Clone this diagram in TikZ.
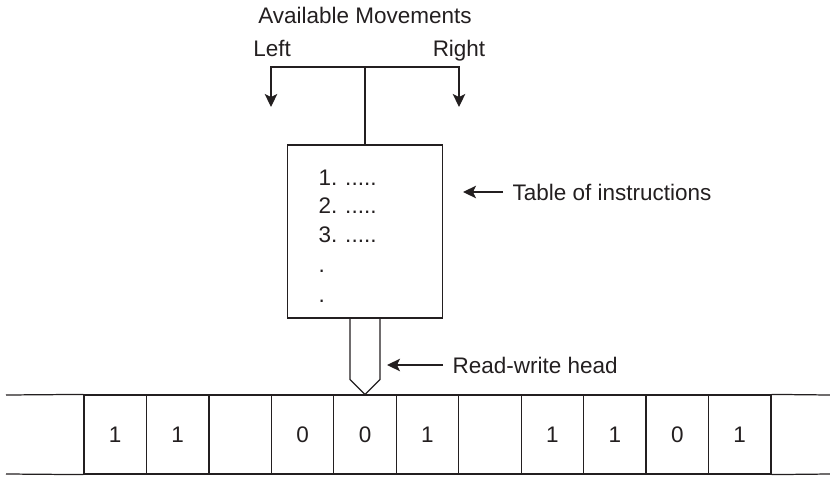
\documentclass[tikz,border=0pt]{standalone}
\usepackage{fontspec}
\setmainfont{Liberation Sans}
\usepackage{tikz}
\usetikzlibrary{arrows.meta, positioning, calc}
\definecolor{ink}{HTML}{231F20}
\tikzstyle{box} = [rectangle, draw, minimum width=3.1cm, minimum height=3.46cm, inner sep=0pt]
\tikzstyle{cell} = [rectangle, draw, minimum width=1.249cm, minimum height=1.58cm, inner sep=0pt]
\tikzstyle{line} = [draw, -{Stealth[length=2.6mm, width=2.5mm, inset=0.6mm]}]
\tikzstyle{note} = [inner sep=0pt, font=\fontsize{12.8}{15}\selectfont]

\begin{document}
\begin{tikzpicture}[x=0.02cm, y=-0.02cm, line width=0.7pt, color=ink]
        \useasboundingbox (0,0) rectangle (830,476);

        % Nodes
        \node [box] (table) at (365,231.5) {};
        \foreach \d [count=\i] in {1,1,{},0,0,1,{},1,1,0,1}
            \node [cell, note] (c\i) at ({115.2+62.45*(\i-1)},434.5) {\d};

        % Tape ends
        \coordinate (tapeNW) at (6,395);
        \coordinate (tapeSW) at (6,474);
        \coordinate (tapeNE) at (830,395);
        \coordinate (tapeSE) at (830,474);
        \draw (tapeNW) -- (c1.north west);
        \draw (tapeSW) -- (c1.south west);
        \draw (c11.north east) -- (tapeNE);
        \draw (c11.south east) -- (tapeSE);

        % Head
        \draw ($(table.south)+(-15,0)$) -- ++(0,61) -- (c5.north) -- ($(table.south)+(15,61)$) -- ++(0,-61);

        % Instructions
        \node [note, anchor=base west] (i1) at (318,185) {1.\hspace{0.35em}.....};
        \node [note, anchor=base west] (i2) at (318,213.5) {2.\hspace{0.35em}.....};
        \node [note, anchor=base west] (i3) at (318,242) {3.\hspace{0.35em}.....};
        \node [note, anchor=base west] (i4) at (318,272) {.};
        \node [note, anchor=base west] (i5) at (318,302) {.};

        % Movements
        \node [note, anchor=base] (avail) at (365,24) {Available Movements};
        \node [note, anchor=base] (left) at (272,57) {Left};
        \node [note, anchor=base] (right) at (459,57) {Right};
        \coordinate (fork) at (365,67);
        \coordinate (leftend) at (271,107);
        \coordinate (rightend) at (459,107);
        \draw (table.north) -- (fork);
        \draw [line] (fork) -| (leftend);
        \draw [line] (fork) -| (rightend);

        % Labels
        \node [note, anchor=west, inner xsep=0.18cm] (toi) at (503,192) {Table of instructions};
        \coordinate [left=0.8cm of toi.west] (toitip);
        \draw [line] (toi.west) -- (toitip);
        \node [note, anchor=west, inner xsep=0.18cm] (rw) at (443,365) {Read-write head};
        \coordinate [left=1.12cm of rw.west] (rwtip);
        \draw [line] (rw.west) -- (rwtip);
    \end{tikzpicture}
\end{document}
